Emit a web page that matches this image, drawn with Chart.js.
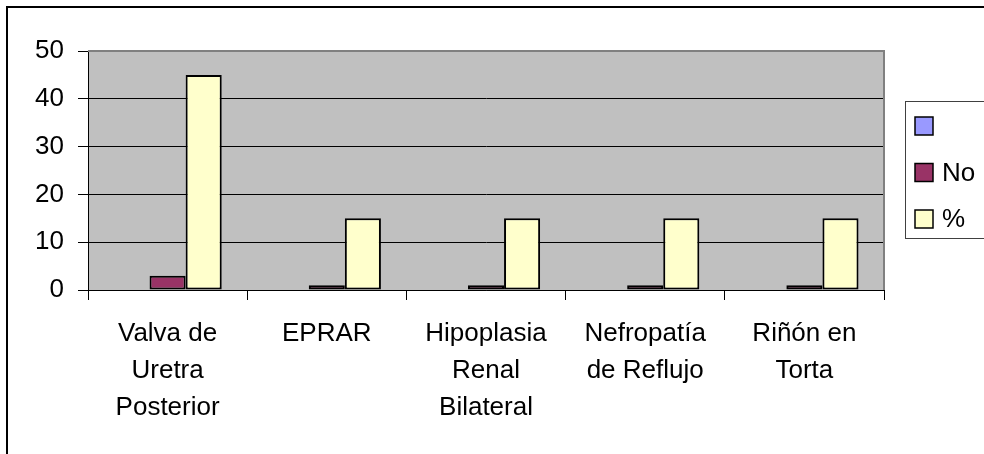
<!DOCTYPE html>
<html lang="es">
<head>
  <meta charset="UTF-8">
  <title>Malformaciones</title>
  <script src="https://cdn.jsdelivr.net/npm/chart.js"></script>
  <style>
    body { margin: 0; background: #fff; overflow: hidden; }
    canvas { display: block; }
  </style>
</head>
<body>
  <canvas id="chart" width="984" height="454"></canvas>

  <script>
    // Data
    const categories = [
      ['Valva de', 'Uretra', 'Posterior'],
      ['EPRAR'],
      ['Hipoplasia', 'Renal', 'Bilateral'],
      ['Nefropatía', 'de Reflujo'],
      ['Riñón en', 'Torta']
    ];
    const blankValues = [null, null, null, null, null];
    const noValues = [3, 1, 1, 1, 1];
    const pctValues = [45, 15, 15, 15, 15];
    const yTicks = [0, 10, 20, 30, 40, 50];

    const FONT = "'Liberation Sans', Arial, sans-serif";

    // grey plot area + Excel-like frame
    const plotBg = {
      id: 'plotBg',
      beforeDraw(chart) {
        const { ctx, chartArea: a } = chart;
        ctx.save();
        ctx.fillStyle = '#C0C0C0';
        ctx.fillRect(a.left, a.top, a.right - a.left, a.bottom - a.top);
        ctx.restore();
      },
      beforeDatasetsDraw(chart) {
        const { ctx, chartArea: a } = chart;
        ctx.save();
        ctx.strokeStyle = '#808080';
        ctx.lineWidth = 2;
        ctx.beginPath();
        ctx.moveTo(a.left, a.top);
        ctx.lineTo(a.right, a.top);
        ctx.lineTo(a.right, a.bottom);
        ctx.stroke();
        ctx.restore();
      }
    };

    // legend box on the right + outer border
    const sideLegend = {
      id: 'sideLegend',
      afterDraw(chart) {
        const ctx = chart.ctx;
        ctx.save();
        ctx.strokeStyle = '#404040';
        ctx.lineWidth = 1;
        ctx.strokeRect(905.5, 101.5, 200, 137);

        ctx.font = '26px ' + FONT;
        ctx.textBaseline = 'middle';
        ctx.textAlign = 'left';
        chart.data.datasets.forEach((ds, i) => {
          const y = 117 + i * 46.5;
          ctx.fillStyle = ds.backgroundColor;
          ctx.fillRect(915, y, 18, 18);
          ctx.strokeStyle = '#000';
          ctx.lineWidth = 1.5;
          ctx.strokeRect(915, y, 18, 18);
          ctx.fillStyle = '#000';
          ctx.fillText(ds.label, 942, y + 10);
        });

        ctx.strokeStyle = '#000';
        ctx.lineWidth = 2;
        ctx.strokeRect(7, 7, 1200, 1200);
        ctx.restore();
      }
    };

    const ctx = document.getElementById('chart').getContext('2d');
    new Chart(ctx, {
      type: 'bar',
      data: {
        labels: categories,
        datasets: [
          { label: '', data: blankValues, backgroundColor: '#9999FF' },
          { label: 'No', data: noValues, backgroundColor: '#993366' },
          { label: '%', data: pctValues, backgroundColor: '#FFFFCC' }
        ]
      },
      options: {
        responsive: false,
        animation: false,
        layout: { padding: { left: 0, top: 51, right: 100, bottom: 0 } },
        datasets: {
          bar: {
            categoryPercentage: 0.68,
            barPercentage: 1,
            borderColor: '#000',
            borderWidth: 2,
            borderSkipped: false
          }
        },
        plugins: {
          legend: { display: false },
          tooltip: { enabled: false }
        },
        scales: {
          x: {
            grid: {
              offset: true,
              drawOnChartArea: false,
              color: '#000',
              tickLength: 10
            },
            border: { color: '#000', width: 1 },
            ticks: {
              color: '#000',
              font: { family: FONT, size: 26, lineHeight: '37px' },
              padding: 15,
              maxRotation: 0,
              autoSkip: false
            },
            afterFit(scale) { scale.height = 164; }
          },
          y: {
            min: yTicks[0],
            max: yTicks[yTicks.length - 1],
            grid: { color: '#000', tickLength: 10 },
            border: { color: '#000', width: 1 },
            ticks: {
              stepSize: yTicks[1] - yTicks[0],
              color: '#000',
              font: { family: FONT, size: 26 },
              padding: 14
            },
            afterFit(scale) { scale.width = 88; }
          }
        }
      },
      plugins: [plotBg, sideLegend]
    });
  </script>
</body>
</html>
